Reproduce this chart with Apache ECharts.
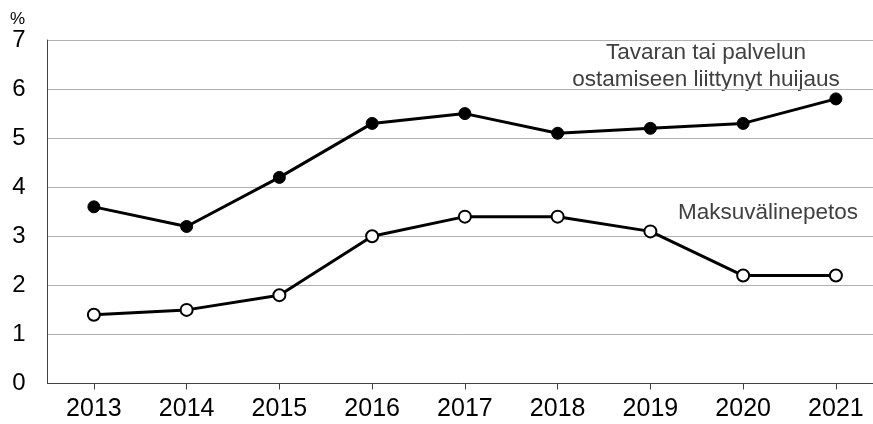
<!DOCTYPE html>
<html><head><meta charset="utf-8">
<script src="https://cdn.jsdelivr.net/npm/echarts@6/dist/echarts.min.js"></script>
<style>html,body{margin:0;padding:0;background:#fff}#c{width:873px;height:424px}</style>
</head><body><div id="c"></div>
<script>
var years = [2013, 2014, 2015, 2016, 2017, 2018, 2019, 2020, 2021];
var ostoHuijaus = [3.6, 3.2, 4.2, 5.3, 5.5, 5.1, 5.2, 5.3, 5.8];
var maksuvalinepetos = [1.4, 1.5, 1.8, 3.0, 3.4, 3.4, 3.1, 2.2, 2.2];
var FONT = '"Liberation Sans", Arial, sans-serif';
function pairs(vals){ return years.map(function(y,i){ return [y, vals[i]]; }); }
var chart = echarts.init(document.getElementById('c'), null, {renderer:'canvas'});
chart.setOption({
  animation:false,
  grid:{left:47.5, right:0, top:40, bottom:40.5, containLabel:false},
  xAxis:{type:'value', min:2012.5, max:2021.4,
    axisLine:{show:true, lineStyle:{color:'#404040', width:1}},
    axisTick:{show:true, length:6, lineStyle:{color:'#404040'}, customValues:years},
    axisLabel:{color:'#000', fontSize:25, fontFamily:FONT, margin:13, customValues:years,
      formatter:function(v){ return String(Math.round(v)); }},
    splitLine:{show:false}},
  yAxis:{type:'value', min:0, max:7, interval:1,
    axisLine:{show:true, lineStyle:{color:'#404040', width:1}},
    axisTick:{show:false},
    axisLabel:{color:'#000', fontSize:24, fontFamily:FONT, margin:22},
    splitLine:{show:true, lineStyle:{color:'#b0b0b0', width:1}}},
  graphic:[
    {type:'text', left:10, top:11, style:{text:'%', fontSize:17, fontFamily:FONT, fill:'#000'}},
    {type:'text', x:706, y:53, style:{text:'Tavaran tai palvelun', fontSize:22.5, fontFamily:FONT, fill:'#404040', textAlign:'center', textVerticalAlign:'middle'}},
    {type:'text', x:706, y:80, style:{text:'ostamiseen liittynyt huijaus', fontSize:22.5, fontFamily:FONT, fill:'#404040', textAlign:'center', textVerticalAlign:'middle'}},
    {type:'text', x:768, y:213, style:{text:'Maksuvälinepetos', fontSize:22.5, fontFamily:FONT, fill:'#404040', textAlign:'center', textVerticalAlign:'middle'}}
  ],
  series:[
    {type:'line', data:pairs(ostoHuijaus), symbol:'circle', symbolSize:12,
      lineStyle:{color:'#000', width:3}, itemStyle:{color:'#000', borderColor:'#000', borderWidth:1}},
    {type:'line', data:pairs(maksuvalinepetos), symbol:'circle', symbolSize:12,
      lineStyle:{color:'#000', width:3}, itemStyle:{color:'#fff', borderColor:'#000', borderWidth:2}}
  ]
});
</script></body></html>
